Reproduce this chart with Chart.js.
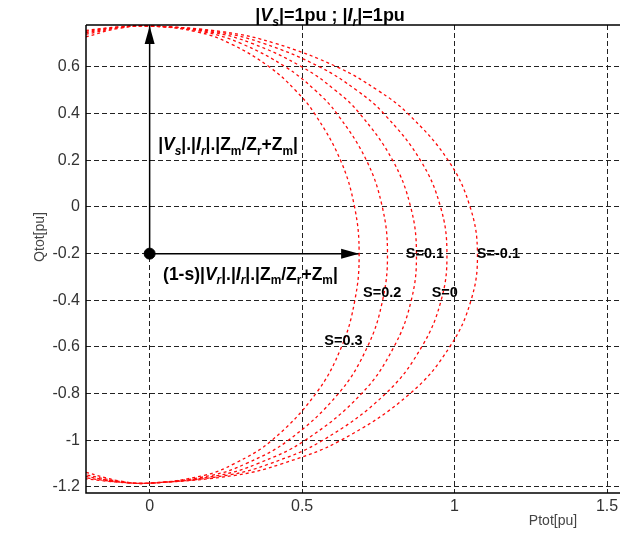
<!DOCTYPE html>
<html><head><meta charset="utf-8">
<script src="https://cdn.jsdelivr.net/npm/chart.js@4/dist/chart.umd.min.js"></script>
<style>
html,body{margin:0;padding:0;background:#fff;overflow:hidden}
#wrap{width:620px;height:537px;overflow:hidden;position:relative;background:#fff}
#c{position:absolute;left:0;top:0;width:630px;height:537px}
</style></head><body>
<div id="wrap"><canvas id="c" width="630" height="537"></canvas></div>
<script>
// ---- data ----
const slipLabels = ['S=0.3', 'S=0.2', 'S=0.1', 'S=0', 'S=-0.1'];
const xTicks = [0, 0.5, 1, 1.5];
const yTicks = [-1.2, -1, -0.8, -0.6, -0.4, -0.2, 0, 0.2, 0.4, 0.6];

const pS03 = [-0.21, -0.1, 0, 0.157, 0.265, 0.393, 0.478, 0.541, 0.626, 0.672, 0.687, 0.673, 0.629, 0.545, 0.401, 0.278, 0.179, 0, -0.1, -0.21];
const qS03 = [0.729, 0.766, 0.776, 0.75, 0.7, 0.6, 0.5, 0.4, 0.2, 0, -0.2, -0.4, -0.6, -0.8, -1.0, -1.1, -1.15, -1.184, -1.174, -1.137];
const pS02 = [-0.21, -0.1, 0, 0.179, 0.301, 0.446, 0.543, 0.614, 0.711, 0.763, 0.78, 0.764, 0.714, 0.619, 0.455, 0.316, 0.204, 0, -0.1, -0.21];
const qS02 = [0.740, 0.768, 0.776, 0.75, 0.7, 0.6, 0.5, 0.4, 0.2, 0, -0.2, -0.4, -0.6, -0.8, -1.0, -1.1, -1.15, -1.184, -1.176, -1.148];
const pS01 = [-0.21, -0.1, 0, 0.200, 0.338, 0.5, 0.609, 0.689, 0.797, 0.856, 0.875, 0.858, 0.801, 0.695, 0.510, 0.354, 0.228, 0, -0.1, -0.21];
const qS01 = [0.747, 0.770, 0.776, 0.75, 0.7, 0.6, 0.5, 0.4, 0.2, 0, -0.2, -0.4, -0.6, -0.8, -1.0, -1.1, -1.15, -1.184, -1.178, -1.155];
const pS00 = [-0.21, -0.1, 0, 0.223, 0.376, 0.558, 0.679, 0.768, 0.888, 0.954, 0.975, 0.956, 0.892, 0.774, 0.568, 0.395, 0.254, 0, -0.1, -0.21];
const qS00 = [0.753, 0.771, 0.776, 0.75, 0.7, 0.6, 0.5, 0.4, 0.2, 0, -0.2, -0.4, -0.6, -0.8, -1.0, -1.1, -1.15, -1.184, -1.179, -1.161];
const pSm01 = [-0.21, -0.1, 0, 0.246, 0.415, 0.615, 0.748, 0.847, 0.979, 1.051, 1.075, 1.054, 0.984, 0.854, 0.627, 0.435, 0.281, 0, -0.1, -0.21];
const qSm01 = [0.757, 0.772, 0.776, 0.75, 0.7, 0.6, 0.5, 0.4, 0.2, 0, -0.2, -0.4, -0.6, -0.8, -1.0, -1.1, -1.15, -1.184, -1.180, -1.165];

// phasor arrows: origin, vertical tip, horizontal tip (s = 0.3)
const arrowOrigin = [0, -0.2];
const arrowVertTip = [0, 0.776];
const arrowHorzTip = [0.687, -0.2];

// label anchors in data units
const slipLabelP = [0.573, 0.70, 0.84, 0.925, 1.073];
const slipLabelQ = [-0.574, -0.368, -0.2, -0.368, -0.2];

// ---- build ----
const FONT = '"Liberation Sans", Arial, sans-serif';
const zip = (p, q) => p.map((v, i) => ({x: v, y: q[i]}));
const curves = [[pS03, qS03], [pS02, qS02], [pS01, qS01], [pS00, qS00], [pSm01, qSm01]];
const curveSets = curves.map((c, i) => ({
  label: slipLabels[i], data: zip(c[0], c[1]), showLine: true,
  borderColor: 'rgba(255,10,10,1)', borderWidth: 1.3, borderDash: [3, 3],
  pointRadius: 0, tension: 0.4, fill: false
}));
const arrowSets = [
  {label: 'v', data: [{x: arrowOrigin[0], y: arrowOrigin[1]}, {x: arrowVertTip[0], y: arrowVertTip[1]}], arrow: true},
  {label: 'h', data: [{x: arrowOrigin[0], y: arrowOrigin[1]}, {x: arrowHorzTip[0], y: arrowHorzTip[1]}], arrow: true}
].map(d => Object.assign(d, {showLine: true, borderColor: '#000', borderWidth: 1.5, pointRadius: 0, tension: 0}));
const dotSet = {label: 'o', data: [{x: arrowOrigin[0], y: arrowOrigin[1]}], showLine: false,
  pointRadius: 5.5, pointBackgroundColor: '#000', pointBorderColor: '#000'};

function drawRich(ctx, segs, x, y, size, measureOnly) {
  let cx = x;
  for (const [t, st] of segs) {
    const sub = st >= 2, it = (st === 1 || st === 3);
    const sz = sub ? size * 0.68 : size;
    ctx.font = (it ? 'italic ' : '') + 'bold ' + sz + 'px ' + FONT;
    if (!measureOnly) ctx.fillText(t, cx, y + (sub ? size * 0.27 : 0));
    cx += ctx.measureText(t).width;
  }
  return cx - x;
}
const titleSegs = [['|',0],['V',1],['s',3],['|=1pu ; |',0],['I',1],['r',3],['|=1pu',0]];
const vertSegs = [['|',0],['V',1],['s',3],['|.|',0],['I',1],['r',3],['|.|Z',0],['m',2],['/Z',0],['r',2],['+Z',0],['m',2],['|',0]];
const horzSegs = [['(1-s)|',0],['V',1],['r',3],['|.|',0],['I',1],['r',3],['|.|Z',0],['m',2],['/Z',0],['r',2],['+Z',0],['m',2],['|',0]];

const deco = {
  id: 'deco',
  afterDatasetsDraw(chart) {
    const {ctx, chartArea: a, scales: {x, y}} = chart;
    ctx.save();
    // frame
    ctx.strokeStyle = '#000'; ctx.lineWidth = 1.5; ctx.setLineDash([]);
    ctx.beginPath();
    ctx.moveTo(a.left, a.top); ctx.lineTo(a.right + 10, a.top);
    ctx.moveTo(a.left, a.top); ctx.lineTo(a.left, a.bottom);
    ctx.lineTo(a.right + 10, a.bottom);
    ctx.stroke();
    // arrowheads
    ctx.fillStyle = '#000';
    chart.data.datasets.forEach(ds => {
      if (!ds.arrow) return;
      const p0 = ds.data[0], p1 = ds.data[1];
      const x0 = x.getPixelForValue(p0.x), y0 = y.getPixelForValue(p0.y);
      const x1 = x.getPixelForValue(p1.x), y1 = y.getPixelForValue(p1.y);
      const ang = Math.atan2(y1 - y0, x1 - x0), L = 18, W = 5;
      ctx.beginPath();
      ctx.moveTo(x1, y1);
      ctx.lineTo(x1 - L * Math.cos(ang) + W * Math.sin(ang), y1 - L * Math.sin(ang) - W * Math.cos(ang));
      ctx.lineTo(x1 - L * Math.cos(ang) - W * Math.sin(ang), y1 - L * Math.sin(ang) + W * Math.cos(ang));
      ctx.closePath(); ctx.fill();
    });
    // phasor labels
    ctx.fillStyle = '#000'; ctx.textBaseline = 'alphabetic'; ctx.textAlign = 'left';
    drawRich(ctx, vertSegs, x.getPixelForValue(0.028), y.getPixelForValue(0.245), 17.5);
    drawRich(ctx, horzSegs, x.getPixelForValue(0.044), y.getPixelForValue(-0.312), 17.5);
    // slip labels
    ctx.font = 'bold 14.5px ' + FONT; ctx.textBaseline = 'middle';
    slipLabels.forEach((t, i) => ctx.fillText(t, x.getPixelForValue(slipLabelP[i]), y.getPixelForValue(slipLabelQ[i])));
    // title
    ctx.textBaseline = 'alphabetic';
    const w = drawRich(ctx, titleSegs, 0, 0, 18, true);
    drawRich(ctx, titleSegs, 330 - w / 2, 21, 18);
    // axis titles
    ctx.fillStyle = '#444'; ctx.font = '14px ' + FONT; ctx.textAlign = 'center'; ctx.textBaseline = 'middle';
    ctx.fillText('Ptot[pu]', 553, 521);
    ctx.translate(40, 237); ctx.rotate(-Math.PI / 2);
    ctx.fillText('Qtot[pu]', 0, 0);
    ctx.restore();
  }
};

new Chart(document.getElementById('c'), {
  type: 'scatter',
  data: {datasets: [...curveSets, ...arrowSets, dotSet]},
  options: {
    responsive: false, maintainAspectRatio: false, animation: false, devicePixelRatio: 1,
    layout: {padding: {top: 25, left: 0, right: 0, bottom: 0}},
    plugins: {legend: {display: false}, tooltip: {enabled: false}, title: {display: false}},
    scales: {
      x: {
        type: 'linear', min: -0.2087, max: 1.554,
        afterBuildTicks: s => { s.ticks = xTicks.map(v => ({value: v})); },
        afterFit: s => { s.height = 44; },
        grid: {color: '#222', lineWidth: 1, drawTicks: false},
        border: {display: false, dash: [5, 3]},
        ticks: {color: '#333', font: {family: FONT, size: 16}, padding: 4, maxRotation: 0,
          callback: v => String(v)}
      },
      y: {
        type: 'linear', min: -1.226, max: 0.78,
        afterBuildTicks: s => { s.ticks = yTicks.map(v => ({value: v})); },
        afterFit: s => { s.width = 86; },
        grid: {color: '#222', lineWidth: 1, drawTicks: false},
        border: {display: false, dash: [5, 3]},
        ticks: {color: '#333', font: {family: FONT, size: 16}, padding: 6,
          callback: v => String(Math.round(v * 10) / 10)}
      }
    }
  },
  plugins: [deco]
});
</script>
</body></html>
